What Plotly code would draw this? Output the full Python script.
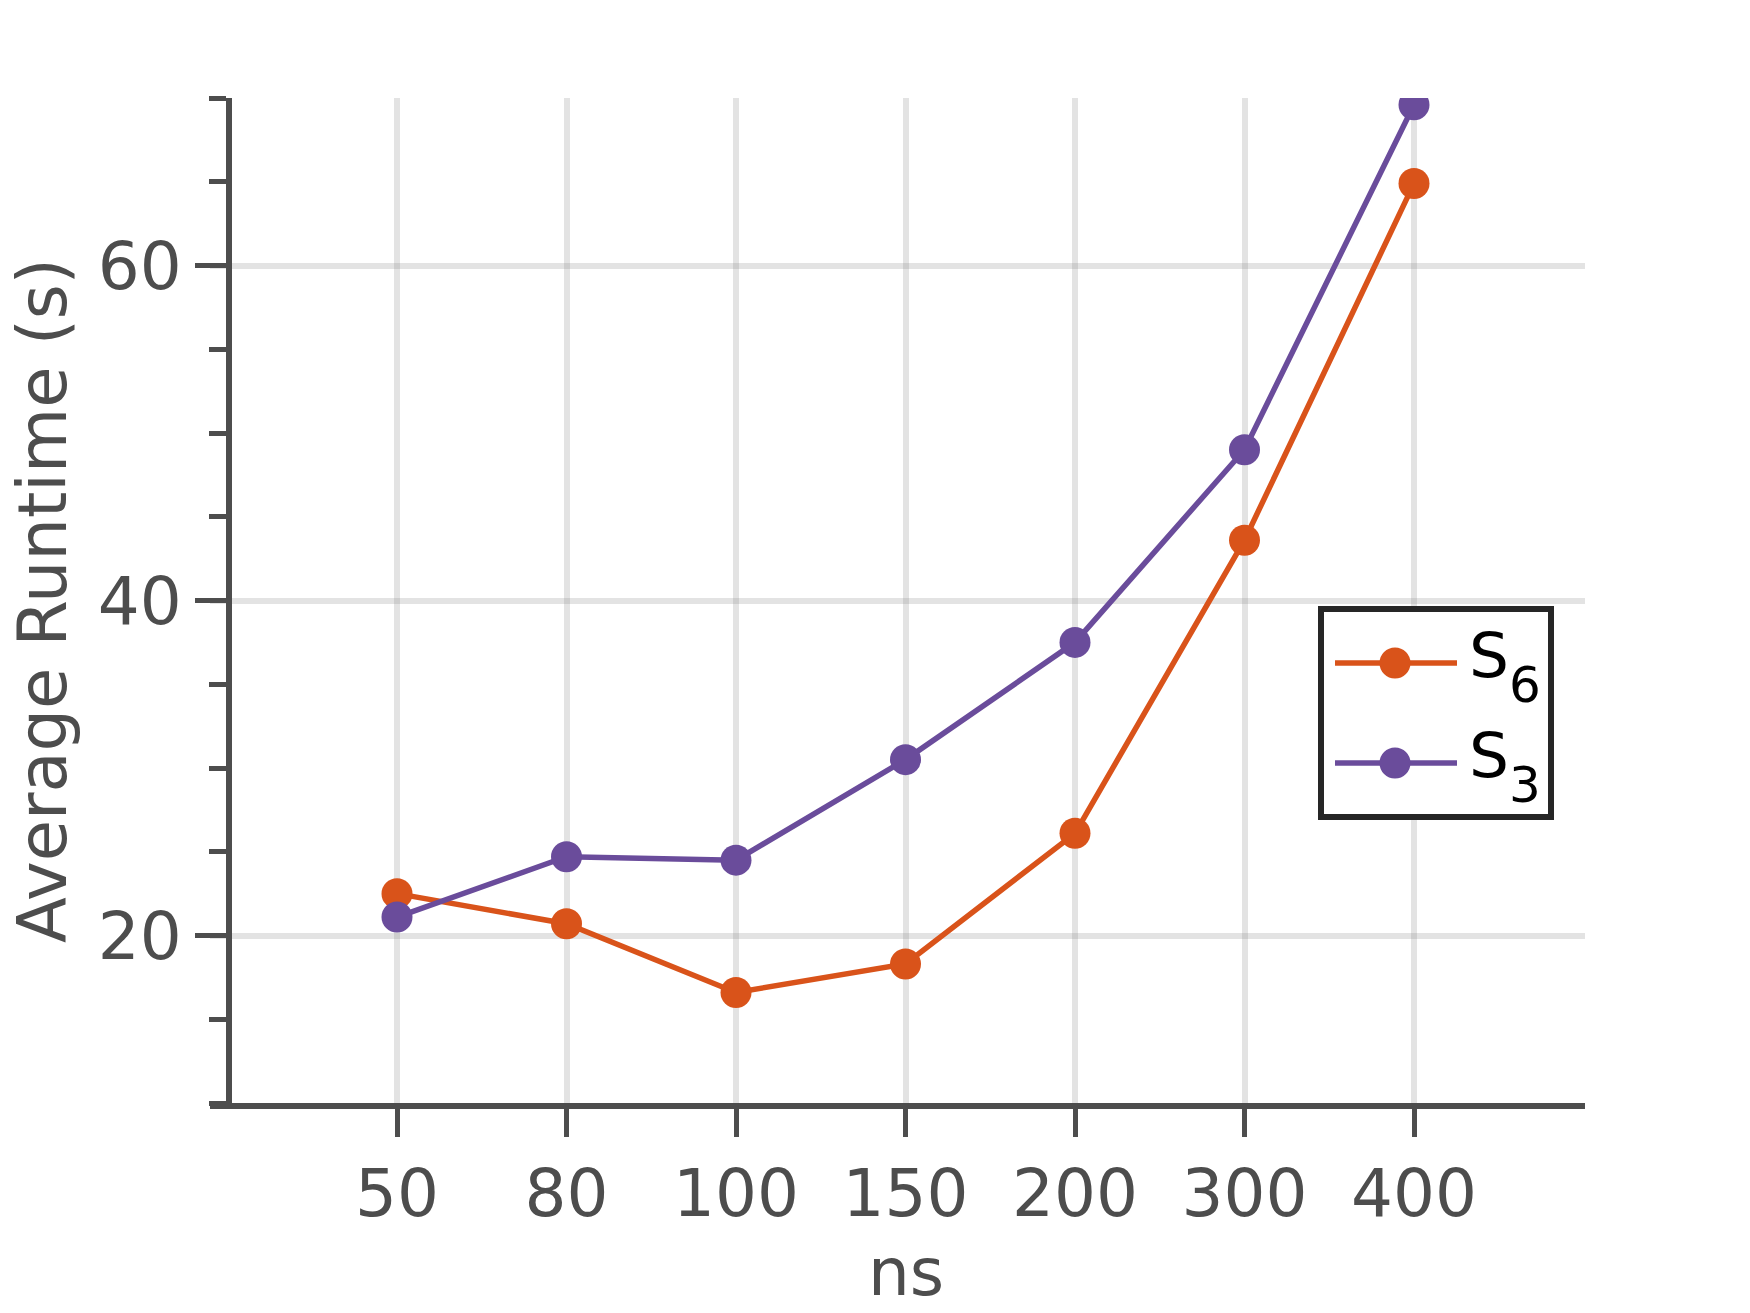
import plotly.graph_objects as go

categories = ["50", "80", "100", "150", "200", "300", "400"]
s6_values = [22.5, 20.7, 16.6, 18.3, 26.1, 43.6, 64.9]
s3_values = [21.1, 24.7, 24.5, 30.5, 37.5, 49.0, 69.6]
series_main = ["S", "S"]
series_sub = ["6", "3"]
colors = ["#d9531a", "#6a4c9b"]

AX = "#4d4d4d"
GRID = "rgba(128,128,128,0.22)"
FONT = "DejaVu Sans"

W, H = 1750, 1313
L, R, T, B = 210, 165, 98, 210
PW, PH = W - L - R, H - T - B


def px(x):
    return (x - L) / PW


def py(y):
    return 1 - (y - T) / PH


fig = go.Figure()
for m, s, vals, col in zip(series_main, series_sub, [s6_values, s3_values], colors):
    fig.add_trace(go.Scatter(
        x=categories, y=vals, name=f"{m}<sub>{s}</sub>", mode="lines+markers",
        line=dict(color=col, width=5.5),
        marker=dict(color=col, size=31, line=dict(width=0)),
        showlegend=False,
    ))

x0 = (210 - 397) / 169.5
x1 = (1585 - 397) / 169.5
ypos = (229 - L) / PW

shapes = []
annotations = []
# legend box
shapes.append(dict(type="rect", xref="paper", yref="paper",
                   x0=px(1321), x1=px(1551), y0=py(817), y1=py(609),
                   line=dict(color="#262626", width=6), fillcolor="white", layer="above"))
entry_y = [663, 763]
for i, (m, s, col) in enumerate(zip(series_main, series_sub, colors)):
    yy = entry_y[i]
    shapes.append(dict(type="line", xref="paper", yref="paper",
                       x0=px(1335), x1=px(1457), y0=py(yy), y1=py(yy),
                       line=dict(color=col, width=5.5), layer="above"))
    shapes.append(dict(type="circle", xref="paper", yref="paper",
                       xsizemode="pixel", ysizemode="pixel",
                       xanchor=px(1395), yanchor=py(yy),
                       x0=-15.5, x1=15.5, y0=-15.5, y1=15.5,
                       fillcolor=col, line=dict(width=0), layer="above"))
    annotations.append(dict(xref="paper", yref="paper", x=px(1467), y=py(yy - 8),
                            xanchor="left", yanchor="middle", showarrow=False,
                            text=m, font=dict(family=FONT, size=63, color="black")))
    annotations.append(dict(xref="paper", yref="paper", x=px(1507), y=py(yy + 22),
                            xanchor="left", yanchor="middle", showarrow=False,
                            text=s, font=dict(family=FONT, size=50, color="black")))

# x-axis title, centred under the middle category like the reference
annotations.append(dict(xref="x", yref="paper", x=3, y=py(1272),
                        xanchor="center", yanchor="middle", showarrow=False,
                        text="ns", font=dict(family=FONT, size=66, color=AX)))

fig.update_layout(
    width=W, height=H,
    margin=dict(l=L, r=R, t=T, b=B),
    paper_bgcolor="white", plot_bgcolor="white",
    font=dict(family=FONT, size=66, color=AX),
    showlegend=False,
    shapes=shapes,
    annotations=annotations,
    xaxis=dict(
        type="category", range=[x0, x1],
        showline=True, linecolor=AX, linewidth=6,
        ticks="outside", ticklen=28, tickwidth=5, tickcolor=AX,
        showgrid=True, gridcolor=GRID, gridwidth=6,
        tickfont=dict(family=FONT, size=66, color=AX),
        zeroline=False,
    ),
    yaxis=dict(
        range=[10, 70], anchor="free", position=ypos,
        tick0=0, dtick=20,
        showline=True, linecolor=AX, linewidth=6,
        ticks="outside", ticklen=31, tickwidth=5, tickcolor=AX,
        minor=dict(dtick=5, tick0=0, ticks="outside", ticklen=17, tickwidth=5, tickcolor=AX, showgrid=False),
        showgrid=True, gridcolor=GRID, gridwidth=6,
        tickfont=dict(family=FONT, size=66, color=AX),
        title=dict(text="Average Runtime (s)", font=dict(family=FONT, size=67, color=AX), standoff=8),
        zeroline=False,
    ),
)

fig.write_html("out.html")
